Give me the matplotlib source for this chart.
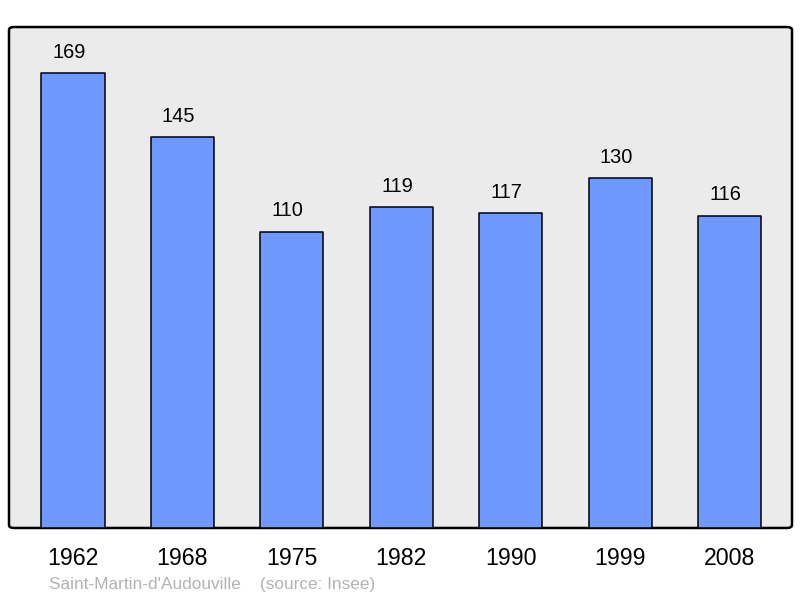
import matplotlib.pyplot as plt
from matplotlib.patches import FancyBboxPatch

plt.rcParams['font.family'] = ['Liberation Sans', 'DejaVu Sans']

years = ["1962", "1968", "1975", "1982", "1990", "1999", "2008"]
population = [169, 145, 110, 119, 117, 130, 116]
caption = "Saint-Martin-d'Audouville    (source: Insee)"

fig = plt.figure(figsize=(8, 5.98), dpi=100)
ax = fig.add_axes([0.01125, 0.1171, 0.97875, 0.8377])

# rounded frame instead of spines
ax.patch.set_visible(False)
for s in ax.spines.values():
    s.set_visible(False)
frame = FancyBboxPatch((0, 0), 1, 1, boxstyle="round,pad=0,rounding_size=0.006",
                       transform=ax.transAxes, facecolor="#ebebeb", edgecolor="black",
                       linewidth=1.8, clip_on=False, zorder=0)
ax.add_patch(frame)

x = list(range(len(years)))
bars = ax.bar(x, population, width=0.576, color="#7099ff", edgecolor="black",
              linewidth=1.1, zorder=2)
for b in bars:
    b.set_joinstyle("round")

for xi, v in zip(x, population):
    ax.annotate(str(v), (xi, v), xytext=(-3, 11), textcoords="offset points",
                ha="center", va="baseline", fontsize=14.4, color="black")

ax.set_xlim(-0.585, 6.571)
ax.set_ylim(0, 186)
ax.set_xticks(x)
ax.set_xticklabels(years, fontsize=16.7)
ax.tick_params(axis="x", length=0, pad=14)
ax.set_yticks([])

fig.text(49 / 800, 1 - 584 / 598, caption, fontsize=12.4, color="#b3b3b3",
         ha="left", va="center")

fig.savefig("out.png", dpi=100)
